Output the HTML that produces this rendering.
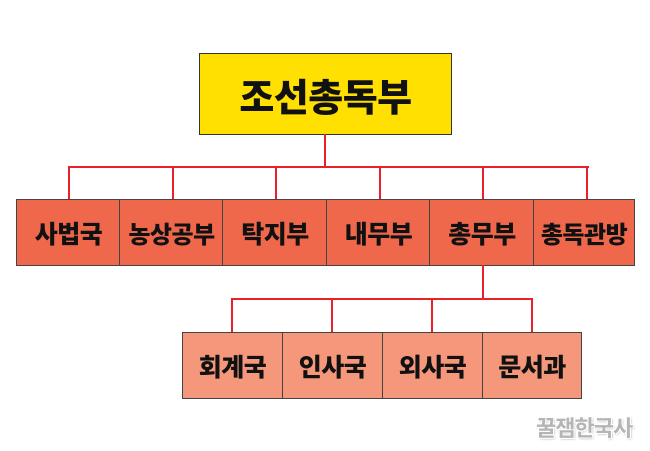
<!DOCTYPE html>
<html><head><meta charset="utf-8"><style>
body{margin:0;width:650px;height:451px;background:#fff;position:relative;overflow:hidden;font-family:"Liberation Sans","Noto Sans CJK KR","NanumGothic",sans-serif}
.b{position:absolute;box-sizing:border-box;border:1px solid #444;display:flex;align-items:center;justify-content:center;font-weight:900;color:#111;letter-spacing:-0.5px}
.l{position:absolute;background:#e8212b}
</style></head><body>
<div class="b" style="left:199px;top:53px;width:253px;height:82px;background:#ffe000;border:1.5px solid #333;font-size:38px">조선총독부</div>
<div class="l" style="left:324px;top:134px;width:2px;height:34px"></div>
<div class="l" style="left:68px;top:166px;width:521px;height:2px"></div>
<div class="l" style="left:68px;top:166px;width:2px;height:34px"></div>
<div class="l" style="left:172px;top:166px;width:2px;height:34px"></div>
<div class="l" style="left:275px;top:166px;width:2px;height:34px"></div>
<div class="l" style="left:379px;top:166px;width:2px;height:34px"></div>
<div class="l" style="left:482px;top:166px;width:2px;height:34px"></div>
<div class="l" style="left:586px;top:166px;width:2px;height:34px"></div>
<div class="b" style="left:16px;top:199px;width:105px;height:67px;background:#f0684c;font-size:25px">사법국</div>
<div class="b" style="left:119px;top:199px;width:105px;height:67px;background:#f0684c;font-size:24px">농상공부</div>
<div class="b" style="left:222px;top:199px;width:106px;height:67px;background:#f0684c;font-size:25px">탁지부</div>
<div class="b" style="left:326px;top:199px;width:105px;height:67px;background:#f0684c;font-size:25px">내무부</div>
<div class="b" style="left:429px;top:199px;width:106px;height:67px;background:#f0684c;font-size:25px">총무부</div>
<div class="b" style="left:533px;top:199px;width:102px;height:67px;background:#f0684c;font-size:24px">총독관방</div>
<div class="l" style="left:482px;top:265px;width:2px;height:35px"></div>
<div class="l" style="left:231px;top:298px;width:302px;height:2px"></div>
<div class="l" style="left:231px;top:298px;width:2px;height:35px"></div>
<div class="l" style="left:331px;top:298px;width:2px;height:35px"></div>
<div class="l" style="left:431px;top:298px;width:2px;height:35px"></div>
<div class="l" style="left:531px;top:298px;width:2px;height:35px"></div>
<div class="b" style="left:182px;top:332px;width:101px;height:67px;background:#f4977a;font-size:25px">회계국</div>
<div class="b" style="left:282px;top:332px;width:101px;height:67px;background:#f4977a;font-size:25px">인사국</div>
<div class="b" style="left:382px;top:332px;width:101px;height:67px;background:#f4977a;font-size:25px">외사국</div>
<div class="b" style="left:482px;top:332px;width:100px;height:67px;background:#f4977a;font-size:25px">문서과</div>
<div style="position:absolute;left:536px;top:411px;font-size:22px;font-weight:bold;color:#b5b5b5;text-shadow:1px 1px 0 #fff,-1px -1px 0 #fff,1px -1px 0 #fff,-1px 1px 0 #fff,1px 1px 2px #999;letter-spacing:-1px">꿀잼한국사</div>
</body></html>
